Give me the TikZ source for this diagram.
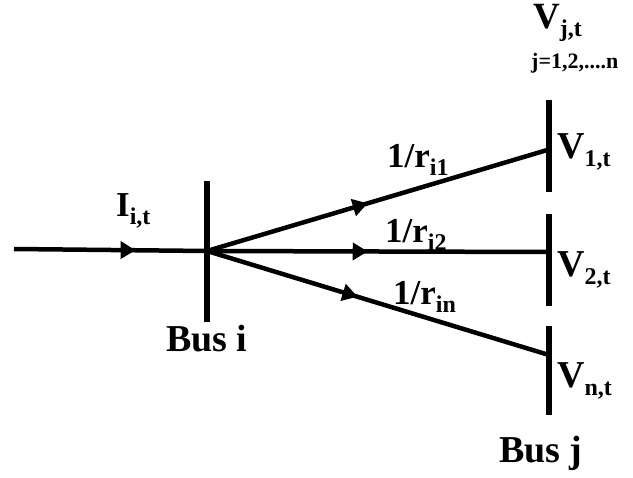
\documentclass[tikz,border=0pt]{standalone}
\usepackage{fontspec}
\setmainfont{Liberation Serif}
\usetikzlibrary{arrows.meta, decorations.markings}

\newcommand{\withsub}[3]{\fontsize{#1}{#1}\selectfont\bfseries #2\raisebox{-8pt}{\fontsize{24}{24}\selectfont #3}}

\begin{document}
\begin{tikzpicture}[x=1pt, y=-1pt,
    busbar/.style={rectangle, fill=black, inner sep=0pt, minimum width=5.5pt},
    lbl/.style={anchor=base west, inner sep=0pt, font=\bfseries\fontsize{38}{38}\selectfont},
    wire/.style={line width=4.5pt, postaction={decorate},
        decoration={markings, mark=at position #1 with {\arrow{Triangle[length=15pt, width=17pt]}}}},
]
\useasboundingbox (0,0) rectangle (633,478);

% buses
\node[busbar, minimum height=141pt] (BUSI) at (207,251.5) {};
\node[busbar, minimum height=92pt] (BUSJ1) at (549,146) {};
\node[busbar, minimum height=92pt] (BUSJ2) at (549,260) {};
\node[busbar, minimum height=89pt] (BUSJN) at (549,370.5) {};

% line ends
\coordinate (SRC) at (14,249);
\coordinate (HUB) at (207,251);
\coordinate (END1) at (549,149.5);
\coordinate (END2) at (549,252);
\coordinate (ENDN) at (549,355);

\draw[wire=0.63] (SRC) -- (HUB);
\draw[wire=0.47] (HUB) -- (END1);
\draw[wire=0.47] (HUB) -- (END2);
\draw[wire=0.44] (HUB) -- (ENDN);

% labels
\node[lbl] (VJT) at (533,29) {\withsub{37}{V}{j,t}};
\node[lbl, font=\bfseries\fontsize{22}{22}\selectfont] (JRANGE) at (531,69) {j=1,2,....n};
\node[lbl] (V1) at (557,159) {\withsub{38}{V}{1,t}};
\node[lbl] (V2) at (557,277) {\withsub{38}{V}{2,t}};
\node[lbl] (VN) at (557,388) {\withsub{38}{V}{n,t}};
\node[lbl] (R1) at (387,168) {\withsub{35}{1/r}{i1}};
\node[lbl] (R2) at (385,243) {\withsub{35}{1/r}{i2}};
\node[lbl] (RN) at (393,305) {\withsub{35}{1/r}{in}};
\node[lbl] (IIT) at (116,217) {\withsub{35}{I}{i,t}};
\node[lbl] (LBUSI) at (166,352) {Bus i};
\node[lbl] (LBUSJ) at (499,463) {Bus j};
\end{tikzpicture}
\end{document}
